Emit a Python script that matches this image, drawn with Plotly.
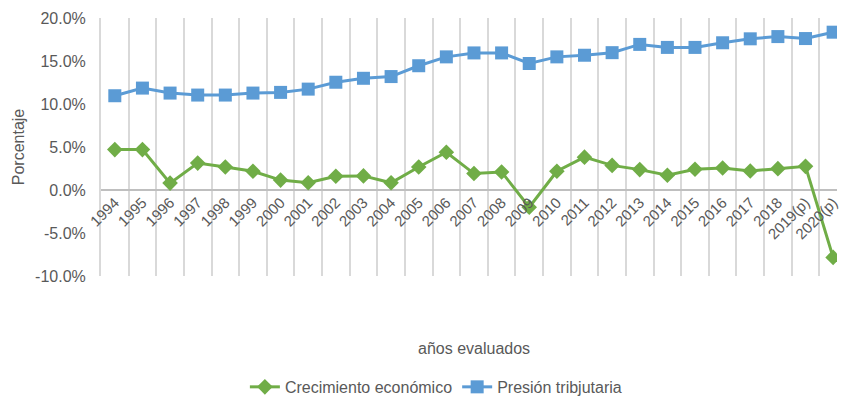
import plotly.graph_objects as go

years = [str(y) for y in range(1994, 2019)] + ["2019(p)", "2020(p)"]

crecimiento = [4.70, 4.70, 0.80, 3.13, 2.67, 2.18, 1.15, 0.84, 1.60, 1.64,
               0.84, 2.67, 4.39, 1.91, 2.10, -2.00, 2.18, 3.82, 2.86, 2.37,
               1.72, 2.41, 2.56, 2.21, 2.48, 2.75, -7.84]

presion = [10.96, 11.85, 11.27, 11.04, 11.04, 11.27, 11.35, 11.73, 12.53, 12.99,
           13.19, 14.45, 15.48, 15.94, 15.94, 14.71, 15.48, 15.67, 15.97, 16.93,
           16.58, 16.58, 17.12, 17.58, 17.84, 17.61, 18.35]

y_ticks = [-10, -5, 0, 5, 10, 15, 20]
y_tick_labels = ["-10.0%", "-5.0%", "0.0%", "5.0%", "10.0%", "15.0%", "20.0%"]

FONT = "Liberation Sans, Arial, sans-serif"
GRAY = "#595959"
GREEN = "#70AD47"
BLUE = "#5B9BD5"

fig = go.Figure()
fig.add_trace(go.Scatter(
    x=years, y=crecimiento, name="Crecimiento económico",
    mode="lines+markers",
    line=dict(color=GREEN, width=3),
    marker=dict(symbol="diamond", size=12, color=GREEN),
))
fig.add_trace(go.Scatter(
    x=years, y=presion, name="Presión tribjutaria",
    mode="lines+markers",
    line=dict(color=BLUE, width=3),
    marker=dict(symbol="square", size=13, color=BLUE),
))

fig.update_layout(
    width=841, height=404,
    margin=dict(l=101, r=0, t=18, b=122),
    paper_bgcolor="white", plot_bgcolor="white",
    font=dict(family=FONT, color=GRAY, size=16),
    showlegend=True,
    legend=dict(orientation="h", x=0.455, xanchor="center", y=-0.43, yanchor="middle",
                font=dict(size=16, color=GRAY), itemwidth=30, tracegroupgap=0),
    xaxis=dict(
        type="category", categoryorder="array", categoryarray=years,
        range=[-0.5, 26.14],
        anchor="free", position=1/3,
        tickson="boundaries", showgrid=True, gridcolor="#D9D9D9", gridwidth=2,
        ticks="", showline=False, zeroline=False,
        tickangle=-45, tickfont=dict(size=15, color=GRAY),
    ),
    yaxis=dict(
        range=[-10, 20], tickmode="array", tickvals=y_ticks, ticktext=y_tick_labels,
        showgrid=False, zeroline=True, zerolinecolor="#BFBFBF", zerolinewidth=2,
        showline=True, linecolor="#D9D9D9", linewidth=2,
        ticks="", ticklabelstandoff=10,
        tickfont=dict(size=16, color=GRAY),
        title=dict(text="Porcentaje", font=dict(size=16, color=GRAY), standoff=6),
    ),
    annotations=[dict(
        text="años evaluados", xref="paper", yref="paper",
        x=0.507, y=-0.28, xanchor="center", yanchor="middle", showarrow=False,
        font=dict(size=16, color=GRAY),
    )],
)

fig.write_html("out.html")
